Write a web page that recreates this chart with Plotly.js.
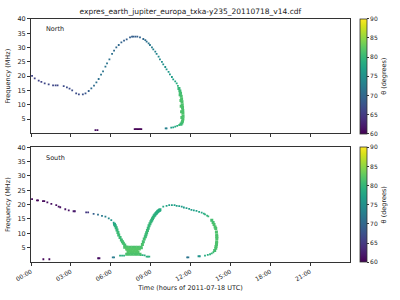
<!DOCTYPE html>
<html>
<head>
<meta charset="utf-8">
<script src="https://cdn.plot.ly/plotly-3.0.1.min.js"></script>
<style>html,body{margin:0;padding:0;background:#fff;}#chart{width:400px;height:300px;}</style>
</head>
<body>
<div id="chart"></div>
<script>
// ---- data (hours of 2011-07-18 UTC, frequency MHz, theta degrees) ----
const northT = [0.08,0.28,0.58,0.78,1.03,1.33,1.66,1.85,2.0,2.46,2.7,2.9,3.1,3.4,3.6,3.9,4.1,4.34,4.54,4.74,4.92,5.09,5.27,5.42,5.6,5.72,5.9,6.1,6.25,6.42,6.6,6.8,7.0,7.2,7.45,7.6,7.7,7.85,8.0,8.2,8.45,8.6,8.7,8.85,8.95,9.1,9.2,9.35,9.45,9.6,9.7,9.85,9.95,10.1,10.2,10.35,10.45,10.6,10.7,10.85,10.96,11.05,
  11.15,11.0,10.85,10.7,10.55,10.2,10.13,
  4.85,5.0,7.8,7.9,8.0,8.1,8.2,8.3];
const northF = [20.1,19.2,18.4,18.0,17.5,17.1,16.8,16.8,16.8,16.5,16.1,15.6,15.0,14.0,13.6,13.6,14.0,14.8,15.7,16.7,17.8,19.0,20.5,21.7,23.3,24.5,25.9,27.8,28.9,30.1,30.9,31.8,32.4,32.9,33.6,33.8,33.8,33.8,33.8,33.6,33.0,32.6,32.1,31.5,30.9,30.1,29.4,28.6,27.8,26.8,25.9,25.0,24.1,23.2,22.4,21.5,20.6,19.7,18.9,18.2,17.5,16.6,
  2.9,2.6,2.3,2.1,2.0,1.75,1.75,
  1.1,1.1,1.45,1.45,1.45,1.45,1.45,1.45];
const northTheta = [66,66,66,66,66.5,66.5,66.5,66.5,66.5,67,67,67,67,67,67,67.5,68,69,70,70.5,71,71,71.5,71.5,71.5,71.5,71,71,70.5,70,70,69.5,69,69,69,69,69,69,69,69.5,70,70.5,71,71.5,72,72.5,73,73,73.5,74,74,74.5,75,75,75.5,76,76,76.5,77,78,78.5,79.5,
  80,79,78,77.5,77,73,73,
  61,61,60,60,60,60,60,60];

const northBandT = [11.13,11.2,11.25,11.3,11.33,11.36,11.38,11.4,11.42,11.43,11.44,11.43,11.4,11.35,11.28,11.3,11.33,11.35,11.22,11.28];
const northBandF = [15.7,14.8,14.0,13.0,12.0,11.0,10.0,9.0,8.0,7.0,6.0,5.0,4.2,3.6,3.2,9.5,7.5,5.5,13.5,11.5];
const northBandTheta = [80,80.5,81,81.5,81.5,81.5,81.5,81.5,81.5,81.5,81.5,81.5,81.5,81,80.5,81.5,81.5,81.5,81,81.5];

const southT = [0.08,0.45,0.53,0.9,1.0,1.23,1.53,1.9,2.08,2.2,2.58,2.84,3.2,3.3,4.15,4.3,4.71,5.04,5.34,5.6,5.85,6.04,6.22,
  9.95,10.2,10.4,10.6,10.8,10.96,11.15,11.34,11.5,11.7,11.9,12.07,12.25,12.45,12.65,12.84,13.0,13.09,13.25,13.34,
  13.72,13.6,13.47,13.3,13.09,12.7,12.6,11.84,11.75,
  0.93,1.38,5.05,5.15,6.15,6.25,6.7,6.85,7.0,8.25,8.4,8.55,8.7,8.8,8.9];
const southF = [21.9,21.5,21.5,21.2,21.2,20.8,20.3,19.8,19.3,19.1,18.4,18.0,17.7,17.7,17.3,17.3,16.8,16.5,16.1,15.8,15.2,14.6,13.7,
  19.3,19.6,19.8,19.8,19.8,19.6,19.5,19.3,19.0,18.8,18.5,18.2,18.0,17.8,17.5,17.2,16.9,16.6,16.2,15.9,
  3.4,3.0,2.7,2.45,2.2,2.0,2.0,1.6,1.6,
  0.95,0.95,1.3,1.3,1.6,1.6,2.2,2.2,2.2,2.4,2.4,2.3,1.85,1.85,1.85];
const southTheta = [60.5,60.5,60.5,60.5,60.5,61,61,61,61,61,61.5,61.5,62,62,65,65,69,71,72,73,74,75.5,77,
  78,77.5,77,77,77,77,76.5,76.5,76.5,76.5,76.5,76.5,77,77,77.5,78,78.5,79,79.5,80,
  80.5,80,79.5,79,78.5,75.5,75.5,71.5,71.5,
  60.5,60.5,61,61,72.5,72.5,79,79,79,79,79,79,79,79,79];

const southBandT = [6.28,6.34,6.41,6.47,6.54,6.6,6.7,6.8,6.88,6.95,7.05,7.15,7.25,
  7.05,7.25,7.45,7.65,7.85,8.05,8.25,
  7.2,7.4,7.6,7.8,8.0,8.15,
  7.35,7.55,7.75,7.95,
  7.3,7.5,7.7,7.9,8.05,
  7.2,7.4,7.6,7.8,8.0,8.2,
  8.3,8.38,8.45,8.52,8.6,8.65,8.7,8.76,8.82,8.88,8.95,9.02,9.08,9.14,9.2,9.27,9.33,9.4,9.45,9.52,9.58,9.65,9.7,
  13.6,13.7,13.77,13.85,13.9,13.95,13.97,13.98,13.98,13.97,13.96,13.95,13.92,13.9,13.82];
const southBandF = [13.2,12.6,11.9,11.2,10.3,9.4,8.5,7.7,7.1,6.5,5.9,5.2,4.4,
  5.1,5.1,5.1,5.1,5.1,5.1,5.1,
  4.5,4.5,4.5,4.5,4.5,4.5,
  3.9,3.9,3.9,3.9,
  3.3,3.3,3.3,3.3,3.3,
  2.7,2.7,2.7,2.7,2.7,2.7,
  5.0,6.1,7.1,8.0,8.8,9.5,10.2,11.0,11.8,12.6,13.3,14.0,14.6,15.1,15.6,16.1,16.5,16.9,17.2,17.5,17.8,18.0,18.2,
  14.6,13.8,13.1,12.2,11.7,10.5,9.4,8.8,8.2,7.1,6.5,6.0,5.4,4.8,4.0];
const southBandTheta = [78,79,79.5,80,80.5,80.5,80.5,80.5,81,81,81,81.5,81.5,
  81.5,81.5,81.5,81.5,81.5,81.5,81.5,
  82,82,82,82,82,82,
  82,82,82,82,
  82,82,82,82,82,
  81.5,81.5,81.5,81.5,81.5,81.5,
  81.5,81.5,81,81,80.5,80.5,80.5,80.5,80,80,80,80,79.5,79.5,79.5,79.5,79,79,79,79,78.5,78.5,78.5,
  81,81,81.5,81.5,81.5,81.5,81.5,81.5,81.5,81.5,81.5,81.5,81.5,81.5,81];

const hourTicks = [0,3,6,9,12,15,18,21];
const hourLabels = ["00:00","03:00","06:00","09:00","12:00","15:00","18:00","21:00"];
const freqTicks = [5,10,15,20,25,30,35,40];
const thetaTicks = [60,65,70,75,80,85,90];
const panelNames = ["North","South"];

// ---- chart ----
const FONT = 'DejaVu Sans, sans-serif';
const TXT = '#222';
const LINE = '#333';

function cbar(yc) {
  return {
    x: 0.9, xanchor: 'left', xpad: 0, ypad: 0,
    y: yc, yanchor: 'middle', len: 0.3817, lenmode: 'fraction',
    thickness: 7, thicknessmode: 'pixels',
    outlinewidth: 0.8, outlinecolor: LINE,
    tickvals: thetaTicks, ticks: 'outside', ticklen: 2, tickcolor: LINE,
    tickfont: {family: FONT, size: 6, color: TXT},
    title: {text: 'θ (degrees)', side: 'right', font: {family: FONT, size: 6.5, color: TXT}}
  };
}
function mk(x, y, c, xa, ya, size, scale, yc) {
  const m = {color: c, colorscale: 'Viridis', cmin: 60, cmax: 90, size: size, symbol: 'square', line: {width: 0}, showscale: scale};
  if (scale) m.colorbar = cbar(yc);
  return {type: 'scatter', mode: 'markers', x: x, y: y, xaxis: xa, yaxis: ya, marker: m, hoverinfo: 'skip'};
}
const traces = [
  mk(northT, northF, northTheta, 'x', 'y', 1.8, true, 0.7459),
  mk(northBandT, northBandF, northBandTheta, 'x', 'y', 3, false),
  mk(southT, southF, southTheta, 'x2', 'y2', 1.8, true, 0.3175),
  mk(southBandT, southBandF, southBandTheta, 'x2', 'y2', 3, false)
];

function xax(anchor, labels) {
  return {
    domain: [0.0775, 0.875], anchor: anchor, range: [0, 24], fixedrange: true,
    tickvals: hourTicks, ticktext: hourLabels, showticklabels: labels,
    tickangle: -30, ticks: 'outside', ticklen: 3, tickcolor: LINE,
    tickfont: {family: FONT, size: 6, color: TXT},
    showline: true, mirror: true, linecolor: LINE, linewidth: 1,
    showgrid: false, zeroline: false
  };
}
function yax(anchor, dom) {
  return {
    domain: dom, anchor: anchor, range: [0, 40], fixedrange: true,
    tickvals: freqTicks, ticks: 'outside', ticklen: 3, tickcolor: LINE,
    tickfont: {family: FONT, size: 6.5, color: TXT},
    showline: true, mirror: true, linecolor: LINE, linewidth: 1,
    showgrid: false, zeroline: false,
    title: {text: 'Frequency (MHz)', standoff: 6, font: {family: FONT, size: 6.5, color: TXT}}
  };
}
const xa2 = xax('y2', true);
xa2.title = {text: 'Time (hours of 2011-07-18 UTC)', standoff: 4, font: {family: FONT, size: 6.5, color: TXT}};

const layout = {
  width: 400, height: 300,
  margin: {l: 0, r: 0, t: 0, b: 0},
  paper_bgcolor: '#fff', plot_bgcolor: '#fff',
  showlegend: false,
  font: {family: FONT, color: TXT},
  title: {text: 'expres_earth_jupiter_europa_txka-y235_20110718_v14.cdf', x: 0.476, xanchor: 'center', y: 0.963, yanchor: 'middle', font: {family: FONT, size: 7.5, color: TXT}},
  xaxis: xax('y', false),
  yaxis: yax('x', [0.5557, 0.9367]),
  xaxis2: xa2,
  yaxis2: yax('x2', [0.1267, 0.509]),
  annotations: [
    {text: panelNames[0], xref: 'x domain', yref: 'y domain', x: 0.041, y: 0.91, xanchor: 'left', yanchor: 'middle', showarrow: false, font: {family: FONT, size: 6.5, color: TXT}},
    {text: panelNames[1], xref: 'x2 domain', yref: 'y2 domain', x: 0.041, y: 0.904, xanchor: 'left', yanchor: 'middle', showarrow: false, font: {family: FONT, size: 6.5, color: TXT}}
  ]
};
Plotly.newPlot('chart', traces, layout, {staticPlot: true, displayModeBar: false});
</script>
</body>
</html>
